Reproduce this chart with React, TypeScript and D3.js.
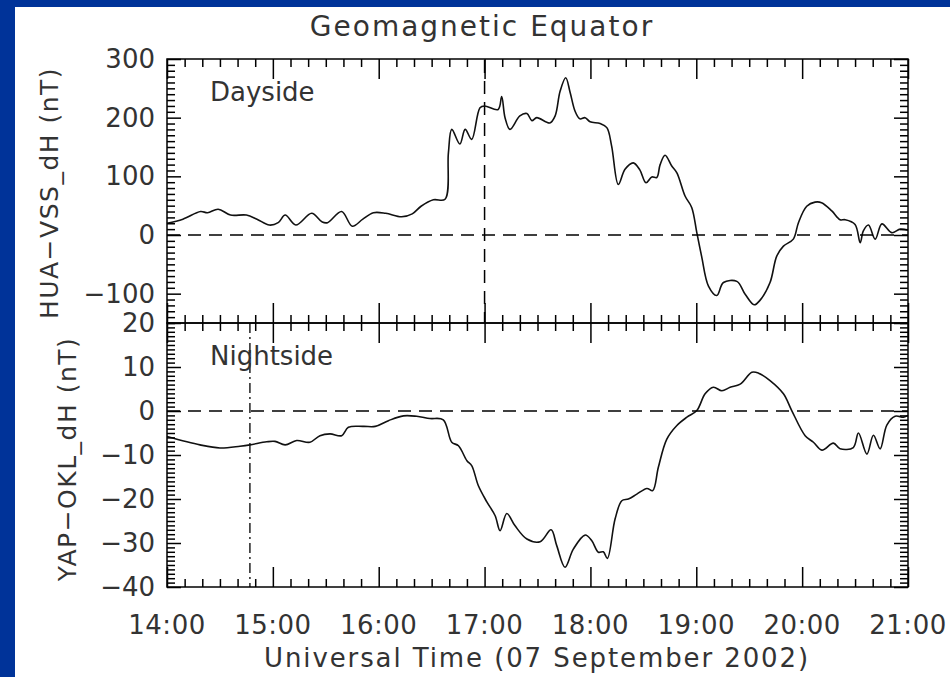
import React, { useRef, useEffect } from 'react';
import * as d3 from 'd3';

// minutes after 14:00 UT
const hourLabels = ['14:00', '15:00', '16:00', '17:00', '18:00', '19:00', '20:00', '21:00'];
const dayTicks = [300, 200, 100, 0, -100];
const nightTicks = [20, 10, 0, -10, -20, -30, -40];

const dayT = [0, 9, 19, 23, 29, 36, 45, 51, 58, 63, 67, 73, 82, 88, 91, 99, 105, 111, 117, 124, 133, 139, 144, 151, 157.6,
  159.5, 161.4, 166, 169, 172.7, 177.4, 180, 187.7, 189.7, 191.6, 194.4, 200, 204, 206.8, 209.6, 217, 220, 222.8, 226, 228.5,
  231.3, 234, 237, 239.8, 245.5, 249.3, 252, 255.8, 259.6, 264.3, 268, 271.5, 274.8, 277.6, 279.5, 282.3, 286, 289, 293.7,
  297.4, 300.3, 303, 306.9, 311.6, 315.4, 323, 327.7, 332.8, 336.2, 341.8, 345.6, 349.4, 355, 357.9, 362.6, 367.3, 371, 376.8,
  381.5, 384.4, 390, 392.9, 394.7, 397.6, 401.4, 405.2, 410.8, 415.6, 420];
const dayH = [20, 27, 40, 38, 44, 34, 34, 27, 17, 21, 34, 17, 37, 22, 21, 40, 15, 27, 38, 37, 31, 36, 49, 60, 61,
  140, 180, 155, 180, 163, 217, 220, 214, 236, 200, 180, 203, 207, 195, 200, 191, 203, 245, 268, 243,
  211, 198, 200, 193, 190, 183, 152, 86, 112, 123, 111, 89, 99, 98, 120, 136, 118, 106, 66,
  47, 4, -36, -87, -103, -81, -79, -101, -119, -111, -81, -36, -19, -7, 21, 49, 56, 55, 41,
  26, 26, 18, -13, 7, 17, -7, 19, 4, 10, 8];

const nightT = [0, 18.7, 30, 41.4, 47, 56.5, 61.2, 67, 73.5, 81, 86.7, 92.4, 99, 102.8, 111.3, 118, 125.5, 134, 141.5, 149,
  156.6, 161.4, 165.2, 170, 172.7, 176.5, 181.2, 186, 188.8, 192.6, 197.3, 204, 211.5, 217.7, 220.9, 225.6, 230.3, 237,
  240.8, 244.5, 247.3, 249.6, 254, 257.8, 261.5, 266.3, 272, 275.3, 278.5, 283.3, 289, 294.7, 300.3, 305, 309.7, 314.5,
  319.2, 324.9, 331.5, 335.3, 341.8, 349.4, 354.1, 361.7, 366.4, 371.2, 377.7, 381.5, 389, 391.9, 396.7, 400.4, 404.2,
  408, 412.7, 417.5, 420];
const nightH = [-5.8, -7.7, -8.4, -8.0, -7.7, -7.0, -6.9, -7.7, -6.7, -7.1, -5.6, -5.2, -5.6, -3.7, -3.5, -3.5, -2.2, -1.1, -1.2, -1.7,
  -2.0, -7.1, -7.9, -11.3, -12.4, -17, -20.6, -23.8, -27.2, -23.3, -26.1, -29.1, -29.7, -27.0, -30.6, -35.5, -31.4, -28.2,
  -29.5, -32.1, -32.0, -33.5, -24.5, -20.4, -20, -18.9, -17.6, -18.1, -12.8, -6.4, -3.3, -1.4, 0.1, 3.9, 5.4, 4.6,
  5.4, 6.1, 8.8, 8.6, 6.9, 3.9, 0.1, -5.6, -7.1, -8.9, -7.3, -8.6, -8.3, -5.0, -9.8, -5.5, -8.6,
  -3.2, -1.2, -1.4, -1];

const dayMarker = 180;   // 17:00 UT
const nightMarker = 47;  // 14:47 UT

const W = 950;
const H = 677;
const left = 167;
const right = 908;
const font = 'DejaVu Sans';
const ink = '#333';

const App = () => {
  const ref = useRef<SVGSVGElement | null>(null);

  useEffect(() => {
    if (!ref.current) return;
    const svg = d3.select(ref.current);
    svg.selectAll('*').remove();

    svg.append('rect').attr('width', W).attr('height', H).attr('fill', '#003399');
    svg.append('rect').attr('x', 15).attr('y', 7).attr('width', W - 15).attr('height', H - 7).attr('fill', '#fff');

    const x = d3.scaleLinear().domain([0, 420]).range([left, right]);
    const yDay = d3.scaleLinear().domain([-150, 300]).range([323, 59]);
    const yNight = d3.scaleLinear().domain([-40, 20]).range([587, 323]);

    const add = (axis: d3.Axis<d3.NumberValue>, tx: number, ty: number) =>
      svg.append('g').attr('transform', `translate(${tx},${ty})`)
        .call(axis.tickFormat(() => ''))
        .call(g => {
          g.select('.domain').remove();
          g.selectAll('line').attr('stroke', '#000').attr('stroke-width', 1.5);
        });

    const panel = (y: d3.ScaleLinear<number, number>, minorStep: number, majorStep: number) => {
      const [y0, y1] = y.range();
      const [d0, d1] = y.domain();
      const xMinor = d3.range(0, 421, 10).filter(t => t % 60 !== 0);
      const xMajor = d3.range(0, 421, 60);
      const yAll = d3.range(Math.round(d0 / minorStep), Math.round(d1 / minorStep) + 1).map(k => k * minorStep);
      const yMajor = yAll.filter(v => Math.abs(v % majorStep) < 1e-6);
      const yMinor = yAll.filter(v => Math.abs(v % majorStep) >= 1e-6);

      svg.append('line').attr('x1', left).attr('x2', right).attr('y1', y(0)).attr('y2', y(0))
        .attr('stroke', '#000').attr('stroke-width', 1.5).attr('stroke-dasharray', '13,8');
      svg.append('rect').attr('x', left).attr('y', y1).attr('width', right - left).attr('height', y0 - y1)
        .attr('fill', 'none').attr('stroke', '#000').attr('stroke-width', 1.5);

      add(d3.axisBottom(x).tickValues(xMinor).tickSize(8), 0, y1);
      add(d3.axisBottom(x).tickValues(xMajor).tickSize(20), 0, y1);
      add(d3.axisTop(x).tickValues(xMinor).tickSize(8), 0, y0);
      add(d3.axisTop(x).tickValues(xMajor).tickSize(20), 0, y0);
      add(d3.axisRight(y).tickValues(yMinor).tickSize(8), left, 0);
      add(d3.axisRight(y).tickValues(yMajor).tickSize(14), left, 0);
      add(d3.axisLeft(y).tickValues(yMinor).tickSize(8), right, 0);
      add(d3.axisLeft(y).tickValues(yMajor).tickSize(14), right, 0);
    };

    // event markers
    svg.append('line').attr('x1', x(dayMarker)).attr('x2', x(dayMarker)).attr('y1', 60).attr('y2', 323)
      .attr('stroke', '#000').attr('stroke-width', 1.5).attr('stroke-dasharray', '13,8');
    svg.append('line').attr('x1', x(nightMarker)).attr('x2', x(nightMarker)).attr('y1', 323).attr('y2', 587)
      .attr('stroke', '#000').attr('stroke-width', 1.3).attr('stroke-dasharray', '10,4,2,4');

    const line = (y: d3.ScaleLinear<number, number>) =>
      d3.line<[number, number]>().x(d => x(d[0])).y(d => y(d[1])).curve(d3.curveCatmullRom.alpha(0.5));

    svg.append('path').attr('d', line(yDay)(dayT.map((t, i) => [t, dayH[i]]) as [number, number][]))
      .attr('fill', 'none').attr('stroke', '#111').attr('stroke-width', 1.6);
    svg.append('path').attr('d', line(yNight)(nightT.map((t, i) => [t, nightH[i]]) as [number, number][]))
      .attr('fill', 'none').attr('stroke', '#111').attr('stroke-width', 1.6);

    panel(yDay, 10, 100);
    panel(yNight, 1, 10);

    const text = (tx: number, ty: number, s: string, anchor: string, size = 26, spacing = 0) =>
      svg.append('text').attr('x', tx).attr('y', ty).attr('text-anchor', anchor)
        .attr('font-family', font).attr('font-size', size).attr('letter-spacing', spacing)
        .attr('fill', ink).text(s);

    dayTicks.forEach(v => text(155, yDay(v) + 9, v < 0 ? '\u2212' + Math.abs(v) : String(v), 'end'));
    nightTicks.forEach(v => text(155, yNight(v) + 9, v < 0 ? '\u2212' + Math.abs(v) : String(v), 'end'));
    hourLabels.forEach((s, i) => text(x(i * 60), 634, s, 'middle', 26, 0.5));

    text(482, 36, 'Geomagnetic Equator', 'middle', 28, 2);
    text(537, 667, 'Universal Time (07 September 2002)', 'middle', 26, 1.9);
    text(210, 101, 'Dayside', 'start');
    text(210, 365, 'Nightside', 'start');

    svg.append('text').attr('transform', `translate(58,193) rotate(-90)`).attr('text-anchor', 'middle')
      .attr('font-family', font).attr('font-size', 25).attr('letter-spacing', 1.5).attr('fill', ink)
      .text('HUA\u2212VSS_dH (nT)');
    svg.append('text').attr('transform', `translate(76,459) rotate(-90)`).attr('text-anchor', 'middle')
      .attr('font-family', font).attr('font-size', 25).attr('letter-spacing', 1.5).attr('fill', ink)
      .text('YAP\u2212OKL_dH (nT)');
  }, []);

  return <svg ref={ref} width={W} height={H} style={{ position: 'absolute', left: 0, top: 0 }} />;
};

export default App;
